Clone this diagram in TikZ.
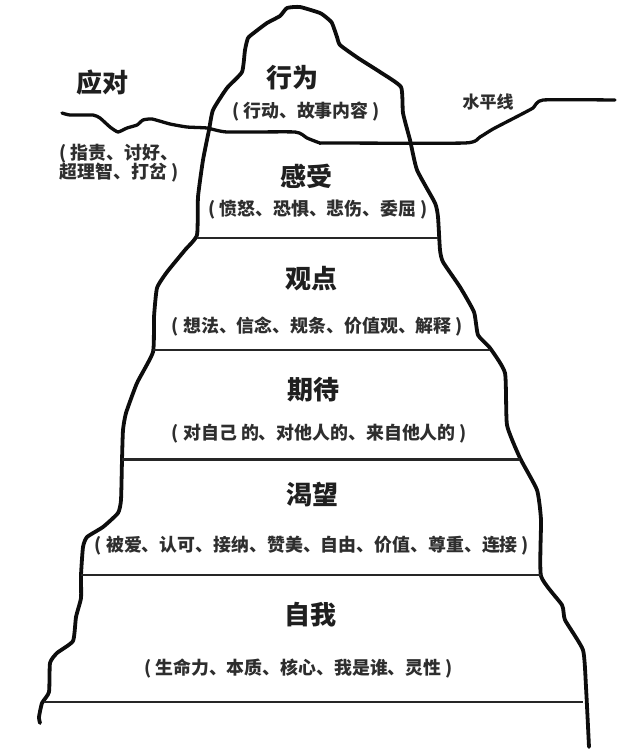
\documentclass[tikz,border=0pt]{standalone}
\usepackage{fontspec}
\setmainfont{Noto Sans CJK SC}
\tikzset{
  outline/.style={line width=3.8pt,line join=round,line cap=round,black!95},
  waterline/.style={line width=3.3pt,line join=round,line cap=round,black!95},
  layer/.style={line width=2.6pt,black!85},
  title/.style={font=\bfseries\fontsize{26}{26}\selectfont,text=black!88,inner sep=0pt},
  sub/.style={font=\bfseries\fontsize{17.9}{19.5}\selectfont,text=black!82,inner sep=0pt,align=center},
}
\begin{document}
\begin{tikzpicture}[x=1pt,y=-1pt]
\useasboundingbox (0,0) rectangle (641,756);
\fill[white] (0,0) rectangle (641,756);
% iceberg outline
\draw[outline] plot[smooth,tension=0.3] coordinates {(40,723) (39,717) (42,703) (49,692) (50,663) (57,653) (73,641) (76,617) (81,598) (81,575) (83,547) (87,537) (103,527) (118,513) (121,500) (122,460) (123,430) (126,413) (137,383) (153,352) (154,317) (157,288) (167,272) (185,250) (197,235) (198,197) (203,160) (209,130) (213,110) (227,88) (242,72) (245,50) (248,38) (255,32) (267,23) (280,16) (287,8) (300,7) (320,13) (327,18) (332,23) (337,37) (340,45) (358,58) (380,72) (401,87) (403,113) (410,140) (417,170) (435,203) (438,217) (440,250) (443,262) (460,287) (474,312) (478,335) (490,348) (505,373) (507,425) (520,458) (537,490) (541,520) (541,576) (562,605) (565,620) (583,650) (586,687) (589,747)};
% water line
\draw[waterline] plot[smooth,tension=0.3] coordinates {(62,113) (70,115) (93,115) (100,118) (110,127) (118,132) (127,128) (137,125) (143,120) (152,119) (170,124) (187,127) (207,128) (227,132) (295,132) (307,138) (320,143) (327,143) (465,143) (480,137) (493,129) (520,115) (533,108) (543,100) (615,100)};
% layers
\coordinate (a1) at (197,238); \coordinate (a2) at (438,238);
\coordinate (b1) at (153,350); \coordinate (b2) at (490,350);
\coordinate (c1) at (122,459.5); \coordinate (c2) at (520,459.5);
\coordinate (d1) at (81,575); \coordinate (d2) at (541,575);
\coordinate (e1) at (44,702); \coordinate (e2) at (583,702);
\draw[layer] (a1) -- (a2);
\draw[layer] (b1) -- (b2);
\draw[layer] (c1) -- (c2);
\draw[layer] (d1) -- (d2);
\draw[layer] (e1) -- (e2);
% labels
\node[title] (yd) at (102.5,83) {应对};
\node[sub] (ydn) at (119,163) {( 指责、讨好、\\超理智、打岔 )};
\node[sub,font=\bfseries\fontsize{17}{17}\selectfont] (sp) at (488,102.5) {水平线};
\node[title] (t1) at (292,77.5) {行为};
\node[sub] (s1) at (306,112) {( 行动、故事内容 )};
\node[title] (t2) at (306,176) {感受};
\node[sub] (s2) at (318,210) {( 愤怒、恐惧、悲伤、委屈 )};
\node[title] (t3) at (311,279) {观点};
\node[sub] (s3) at (317.5,327) {( 想法、信念、规条、价值观、解释 )};
\node[title] (t4) at (313.5,390) {期待};
\node[sub] (s4) at (319.5,434) {( 对自己 的、对他人的、来自他人的 )};
\node[title] (t5) at (312,495) {渴望};
\node[sub] (s5) at (312,546) {( 被爱、认可、接纳、赞美、自由、价值、尊重、连接 )};
\node[title] (t6) at (310.5,615) {自我};
\node[sub] (s6) at (298.5,669) {( 生命力、本质、核心、我是谁、灵性 )};
\end{tikzpicture}
\end{document}
